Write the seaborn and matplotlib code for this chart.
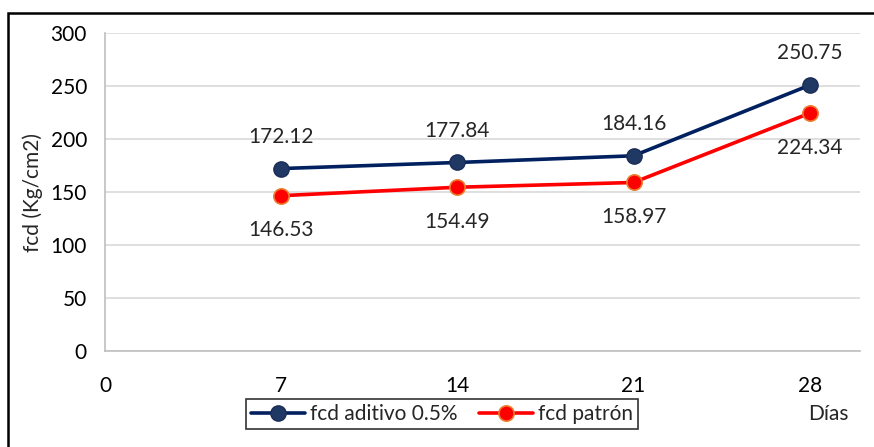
import pandas as pd
import seaborn as sns
import matplotlib.pyplot as plt
from matplotlib.patches import Rectangle

# --- datos ---
dias = [7, 14, 21, 28]
fcd_aditivo = [172.12, 177.84, 184.16, 250.75]
fcd_patron = [146.53, 154.49, 158.97, 224.34]
x_ticks = [0, 7, 14, 21, 28]
y_ticks = [0, 50, 100, 150, 200, 250, 300]

df = pd.DataFrame({'Dias': dias, 'aditivo': fcd_aditivo, 'patron': fcd_patron})

sns.set_style('white')
plt.rcParams['font.family'] = ['Lato', 'DejaVu Sans']

fig = plt.figure(figsize=(8.74, 4.47), dpi=100)
ax = fig.add_axes([105 / 874, 1 - 351 / 447, 755 / 874, 318 / 447])

azul = '#002060'
rojo = '#FF0000'

sns.lineplot(data=df, x='Dias', y='aditivo', ax=ax, color=azul, lw=2.6,
             marker='o', markersize=11, markerfacecolor='#203864',
             markeredgecolor='#1A2C55', markeredgewidth=1, label='fcd aditivo 0.5%')
sns.lineplot(data=df, x='Dias', y='patron', ax=ax, color=rojo, lw=2.6,
             marker='o', markersize=11, markerfacecolor='#FF0000',
             markeredgecolor='#ED7D31', markeredgewidth=1.2, label='fcd patrón')

# etiquetas de datos
for x, v in zip(dias, fcd_aditivo):
    ax.annotate(f'{v:.2f}', (x, v), xytext=(0, 23), textcoords='offset points',
                ha='center', va='center', fontsize=15)
for x, v in zip(dias, fcd_patron):
    ax.annotate(f'{v:.2f}', (x, v), xytext=(0, -25), textcoords='offset points',
                ha='center', va='center', fontsize=15)

ax.set_xlim(0, 30)
ax.set_ylim(0, 300)
ax.set_xticks(x_ticks)
ax.set_yticks(y_ticks)
ax.tick_params(labelsize=15, colors='black')
ax.tick_params(axis='both', length=7, width=1.2, color='#BFBFBF', direction='out')
ax.tick_params(axis='x', pad=11)
ax.tick_params(axis='y', pad=6)
ax.grid(axis='y', color='#D9D9D9', lw=1.2)
for s in ['top', 'right']:
    ax.spines[s].set_visible(False)
for s in ['left', 'bottom']:
    ax.spines[s].set_color('#BFBFBF')
    ax.spines[s].set_linewidth(1.2)
ax.set_xlabel('')
ax.set_ylabel('fcd (Kg/cm2)', fontsize=15)
ax.yaxis.set_label_coords((43 - 105) / 755, 0.5)

ax.get_legend().remove()
h, l = ax.get_legend_handles_labels()
leg = fig.legend(h, l, ncol=2, loc='center', bbox_to_anchor=(442 / 874, 1 - 414 / 447),
                 fontsize=15, frameon=True, fancybox=False, borderpad=0.25,
                 handlelength=2.6, columnspacing=1.0, handletextpad=0.25)
leg.get_frame().set_edgecolor('black')
leg.get_frame().set_linewidth(1.2)

fig.text(828 / 874, 1 - 414 / 447, 'Días', ha='center', va='center', fontsize=15)

# borde exterior
fig.patches.append(Rectangle((8 / 874, -0.1), 1.2, 1.1 - 13 / 447, transform=fig.transFigure,
                             fill=False, ec='black', lw=1.8))

fig.savefig('out.png', dpi=100)
